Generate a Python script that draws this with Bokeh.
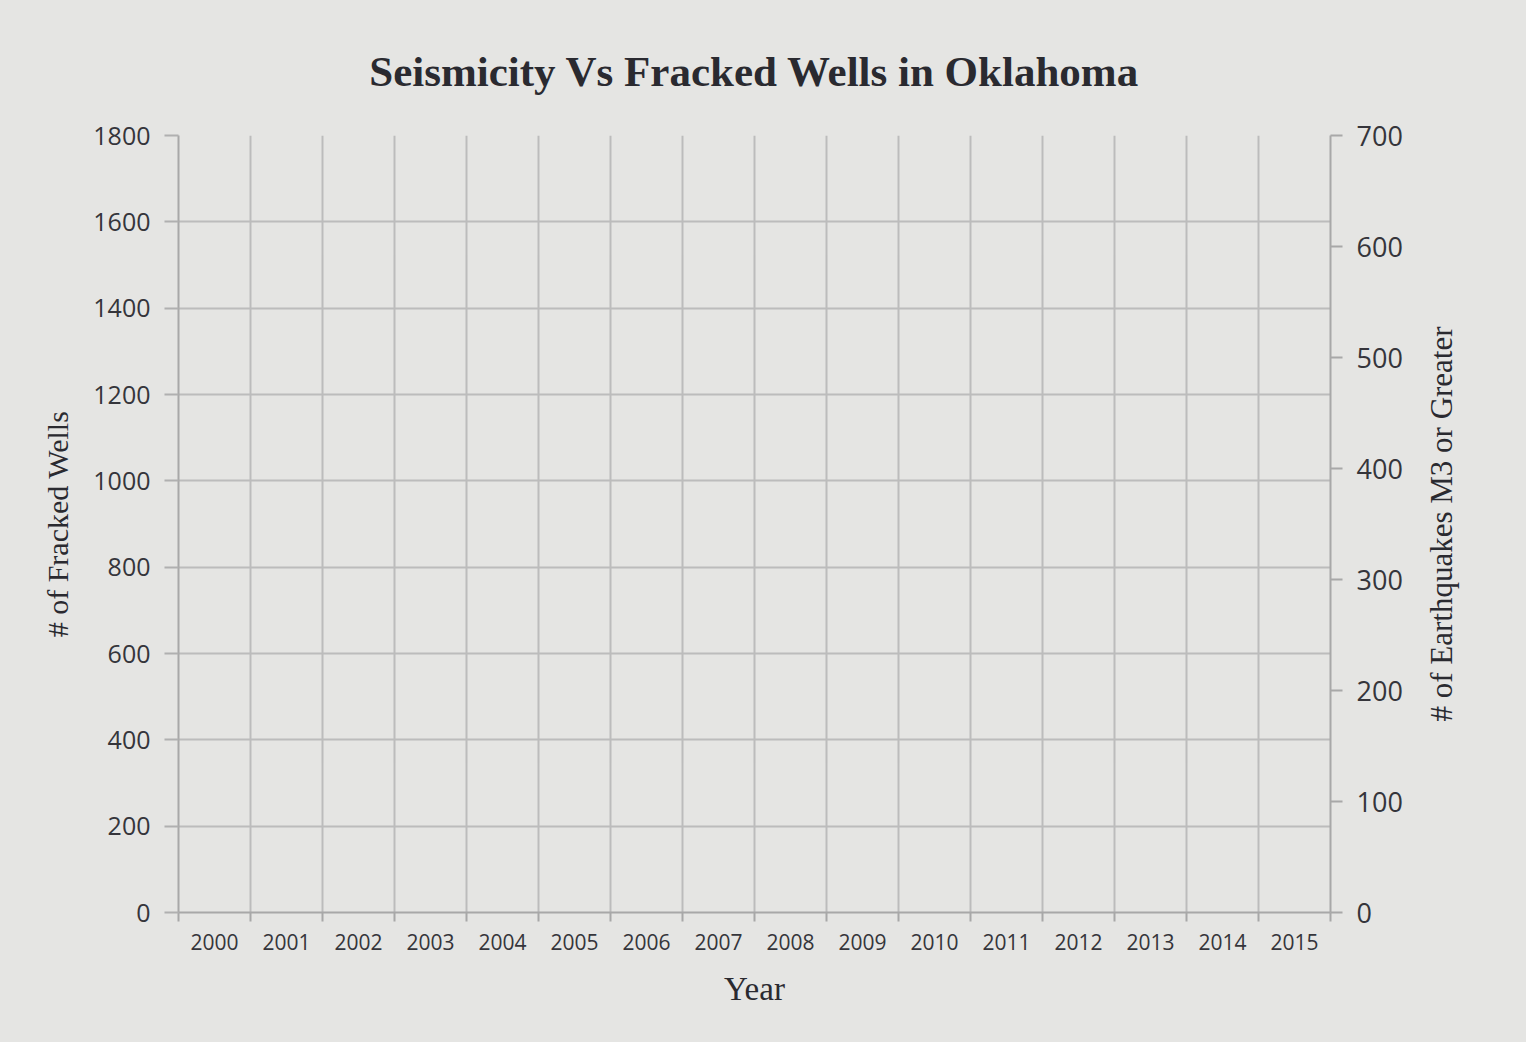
from bokeh.plotting import figure
from bokeh.layouts import row
from bokeh.models import Range1d, LinearAxis, FixedTicker
from bokeh.embed import file_html
from bokeh.resources import INLINE

# ---- data (the template has no plotted series) ----
years = ["2000", "2001", "2002", "2003", "2004", "2005", "2006", "2007",
         "2008", "2009", "2010", "2011", "2012", "2013", "2014", "2015"]
wells_ticks = [0, 200, 400, 600, 800, 1000, 1200, 1400, 1600, 1800]
quake_ticks = [0, 100, 200, 300, 400, 500, 600, 700]

bg = "#e5e5e3"
grid_col = "#bcbcbc"
text_col = "#35353b"
n = len(years)

p = figure(frame_width=1152, frame_height=777,
           x_range=Range1d(0, n), y_range=Range1d(0, wells_ticks[-1]),
           output_backend="svg", toolbar_location=None,
           min_border_left=178, min_border_top=135, min_border_right=90,
           min_border_bottom=130,
           background_fill_color=bg, border_fill_color=bg,
           outline_line_color=None)

p.extra_y_ranges = {"quakes": Range1d(0, quake_ticks[-1])}

# title
p.title.text = "Seismicity Vs Fracked Wells in Oklahoma"
p.title.align = "center"
p.title.text_font = "Liberation Serif"
p.title.text_font_size = "43px"
p.title.text_font_style = "bold"
p.title.text_color = "#2a2a30"
p.title.standoff = 81

# x axis: labels at category centres, tick marks at category boundaries
centres = [i + 0.5 for i in range(n)]
xt = FixedTicker(ticks=centres, minor_ticks=list(range(n + 1)))
xa = p.xaxis[0]
xa.ticker = xt
xa.major_label_overrides = {c: y for c, y in zip(centres, years)}
xa.major_tick_out = 0
xa.major_tick_in = 0
xa.minor_tick_out = 9
xa.minor_tick_in = 0
xa.minor_tick_line_color = "#a8a8a8"
xa.minor_tick_line_width = 2
xa.axis_line_color = "#a8a8a8"
xa.axis_line_width = 2
xa.major_label_text_font = "Open Sans"
xa.major_label_text_font_size = "21px"
xa.major_label_text_color = text_col
xa.major_label_standoff = 12
xa.axis_label = "Year"
xa.axis_label_text_font = "Liberation Serif"
xa.axis_label_text_font_size = "33px"
xa.axis_label_text_font_style = "normal"
xa.axis_label_text_color = "#2a2a30"
xa.axis_label_standoff = 18

p.xgrid.ticker = FixedTicker(ticks=list(range(n + 1)))
p.xgrid.grid_line_color = grid_col
p.xgrid.grid_line_width = 2

# left axis
ya = p.yaxis[0]
ya.ticker = FixedTicker(ticks=wells_ticks)
ya.major_tick_out = 14
ya.major_tick_in = 0
ya.minor_tick_line_color = None
ya.major_tick_line_color = "#b0b0b0"
ya.major_tick_line_width = 2
ya.axis_line_color = "#a8a8a8"
ya.axis_line_width = 2
ya.major_label_text_font = "Open Sans"
ya.major_label_text_font_size = "25px"
ya.major_label_text_color = text_col
ya.major_label_standoff = 14
ya.axis_label = "# of Fracked Wells"
ya.axis_label_text_font = "Liberation Serif"
ya.axis_label_text_font_size = "30px"
ya.axis_label_text_font_style = "normal"
ya.axis_label_text_color = "#2a2a30"
ya.axis_label_standoff = 16

p.ygrid.ticker = FixedTicker(ticks=wells_ticks)
p.ygrid.grid_line_color = grid_col
p.ygrid.grid_line_width = 2

# right axis (ticks and labels)
ra = LinearAxis(y_range_name="quakes", ticker=FixedTicker(ticks=quake_ticks))
ra.major_tick_out = 12
ra.major_tick_in = 0
ra.minor_tick_line_color = None
ra.major_tick_line_color = "#a8a8a8"
ra.major_tick_line_width = 2
ra.axis_line_color = "#a8a8a8"
ra.axis_line_width = 2
ra.major_label_text_font = "Open Sans"
ra.major_label_text_font_size = "27px"
ra.major_label_text_color = text_col
ra.major_label_standoff = 14
p.add_layout(ra, "right")

# right axis title, reading bottom-to-top like the left one:
# drawn by a narrow companion figure whose left axis carries the label
q = figure(frame_width=1, frame_height=777,
           x_range=Range1d(0, 1), y_range=Range1d(0, quake_ticks[-1]),
           output_backend="svg", toolbar_location=None,
           min_border_left=40, min_border_top=123, min_border_right=65,
           min_border_bottom=142,
           background_fill_color=None, border_fill_color=None,
           outline_line_color=None)
q.xaxis.visible = False
q.xgrid.visible = False
q.ygrid.visible = False
qa = q.yaxis[0]
qa.ticker = FixedTicker(ticks=[])
qa.major_tick_line_color = None
qa.minor_tick_line_color = None
qa.axis_line_color = None
qa.major_label_text_font_size = "0px"
qa.axis_label = "# of Earthquakes M3 or Greater"
qa.axis_label_text_font = "Liberation Serif"
qa.axis_label_text_font_size = "31px"
qa.axis_label_text_font_style = "normal"
qa.axis_label_text_color = "#2a2a30"
qa.axis_label_standoff = 4

layout = row(p, q, styles={"background-color": bg})
open("out.html", "w").write(file_html(layout, INLINE))
